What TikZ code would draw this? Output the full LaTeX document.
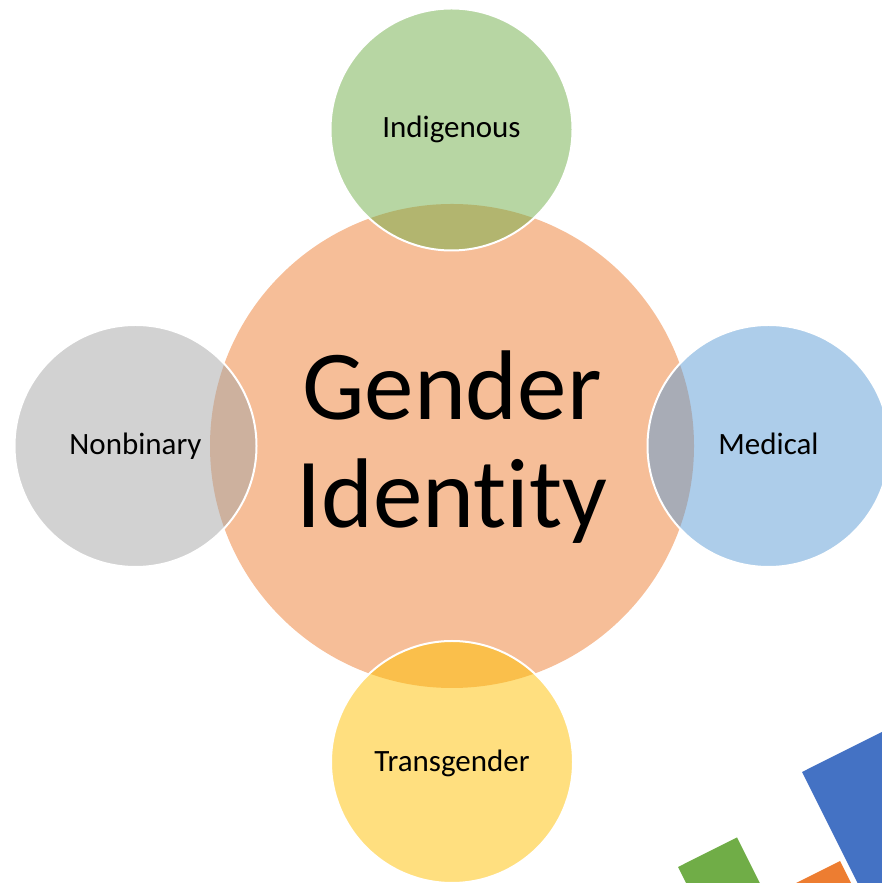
\documentclass[tikz,border=0pt]{standalone}
\usepackage{fontspec}
\setmainfont{Carlito}[Ligatures=NoCommon]
\usetikzlibrary{calc}

\definecolor{accentorange}{HTML}{ED7D31}
\definecolor{accentgreen}{HTML}{70AD47}
\definecolor{accentblue}{HTML}{5B9BD5}
\definecolor{accentgray}{HTML}{A5A5A5}
\definecolor{accentgold}{HTML}{FFC000}
\definecolor{accentdark}{HTML}{4472C4}

\begin{document}
\begin{tikzpicture}[x=1pt,y=1pt,
  hub/.style={circle,minimum size=484pt,inner sep=0pt,fill=accentorange!50},
  petal/.style={circle,minimum size=242pt,inner sep=0pt,fill opacity=.5,draw=white,draw opacity=1,line width=2pt},
  petaltext/.style={anchor=base,inner sep=0pt,font=\fontsize{31}{37}\selectfont},
  hubtext/.style={anchor=base,inner sep=0pt,font=\fontsize{99}{108}\selectfont}]

\useasboundingbox (0,0) rectangle (882,883);
\clip (0,0) rectangle (882,883);

% Central circle
\node[hub] (identity) at (452,437) {};

% Surrounding circles
\node[petal,fill=accentgreen] (indigenous) at (451.5,753.5) {};
\node[petal,fill=accentgray] (nonbinary) at (135.5,437) {};
\node[petal,fill=accentblue] (medical) at (768.5,437) {};
\node[petal,fill=accentgold] (transgender) at (452,121) {};

% Labels
\node[hubtext] (gendertext) at ($(identity)+(0,26)$) {Gender};
\node[hubtext] (identitytext) at ($(identity)+(0,-82)$) {Identity};
\node[petaltext] (indigenoustext) at ($(indigenous)+(0,-8)$) {Indigenous};
\node[petaltext] (nonbinarytext) at ($(nonbinary)+(0,-9)$) {Nonbinary};
\node[petaltext] (medicaltext) at ($(medical)+(0,-9)$) {Medical};
\node[petaltext] (transgendertext) at ($(transgender)+(0,-10)$) {Transgender};

% Chart icon in the corner
\fill[accentdark] (802,111) -- ++(26.6:300) -- ++(-63.4:400) -- ++(206.6:300) -- cycle;
\fill[accentgreen] (678,16) -- ++(26.6:66) -- ++(-63.4:100) -- ++(206.6:66) -- cycle;
\fill[accentorange] (840,22) -- ++(206.6:100) -- ++(-63.4:100) -- ++(26.6:100) -- cycle;

\end{tikzpicture}
\end{document}
